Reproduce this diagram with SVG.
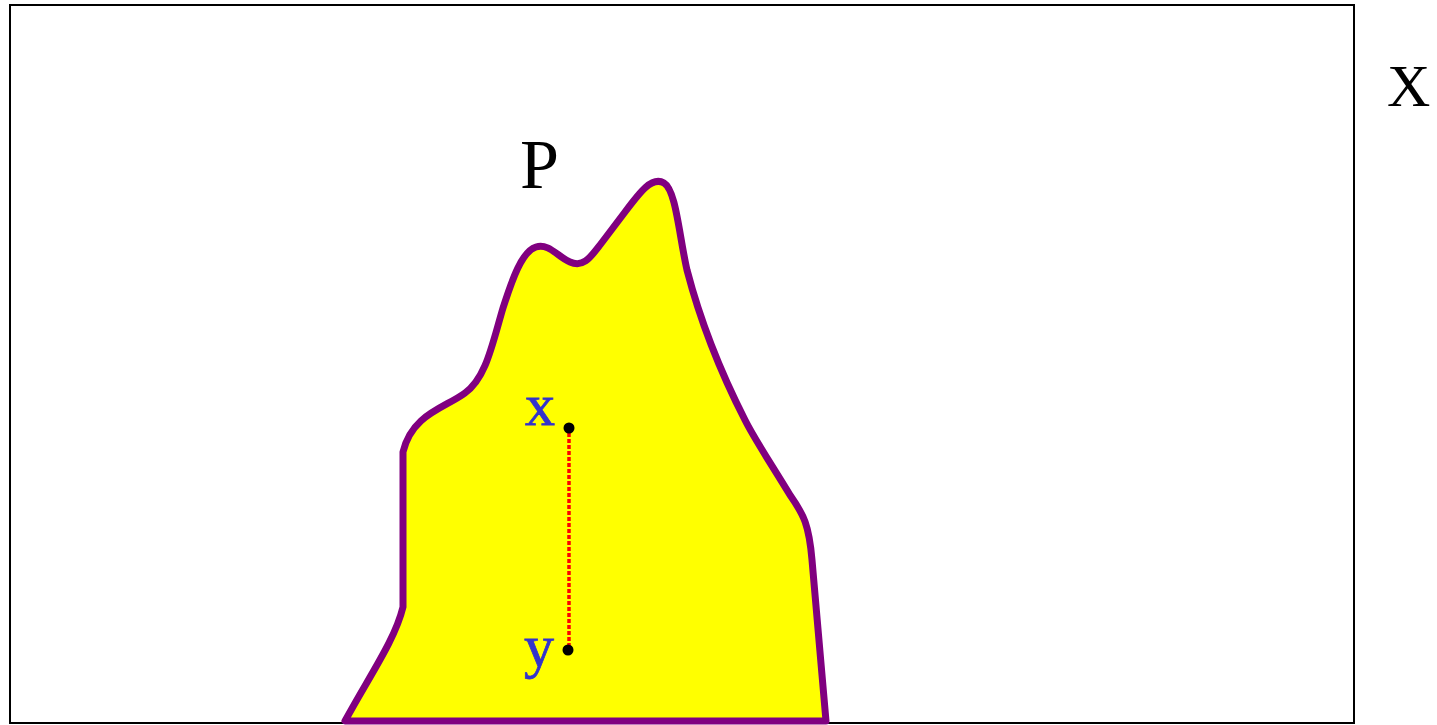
<svg xmlns="http://www.w3.org/2000/svg" width="1437" height="725" viewBox="0 0 1437 725">
<style>
.lbl{font-family:"Liberation Serif","DejaVu Serif",serif;}
.pt{fill:#3333cc;font-size:60px;}
</style>
<rect width="1437" height="725" fill="#ffffff"/>
<rect id="frame" x="10" y="5" width="1344" height="718" fill="none" stroke="#000" stroke-width="2"/>
<g id="region">
<path d="M 345 721 L 826 721 L 812 560 C 809 525 804 515 790 495 C 770 462 755 440 745 420 C 722 375 700 320 687 270 C 679 235 676 190 664 183 C 652 176 640 192 625 212 L 600 245 C 590 258 583 268 570 262 C 558 257 549 243 536 247 C 522 251 512 280 503 308 C 492 345 486 378 465 393 C 445 408 412 414 403 452 L 403 607 C 395 640 370 675 345 721 Z" fill="#ffff00" stroke="#800080" stroke-width="7" stroke-linejoin="round"/>
</g>
<g id="connectors">
<line x1="569" y1="433" x2="569" y2="646" stroke="#ff0000" stroke-width="3.5" stroke-dasharray="4,2"/>
</g>
<g id="pointx">
<circle cx="569" cy="428" r="5.5" fill="#000"/>
<text class="lbl pt" x="525" y="425" stroke="#3333cc" stroke-width="0.8">x</text>
</g>
<g id="pointy">
<circle cx="568" cy="650" r="5.5" fill="#000"/>
<text class="lbl pt" x="524" y="666" stroke="#3333cc" stroke-width="0.8">y</text>
</g>
<g id="labelP">
<text class="lbl" x="520" y="188" font-size="70" fill="#000">P</text>
</g>
<g id="labelX">
<text class="lbl" x="1387" y="106" font-size="60" fill="#000">X</text>
</g>
</svg>
